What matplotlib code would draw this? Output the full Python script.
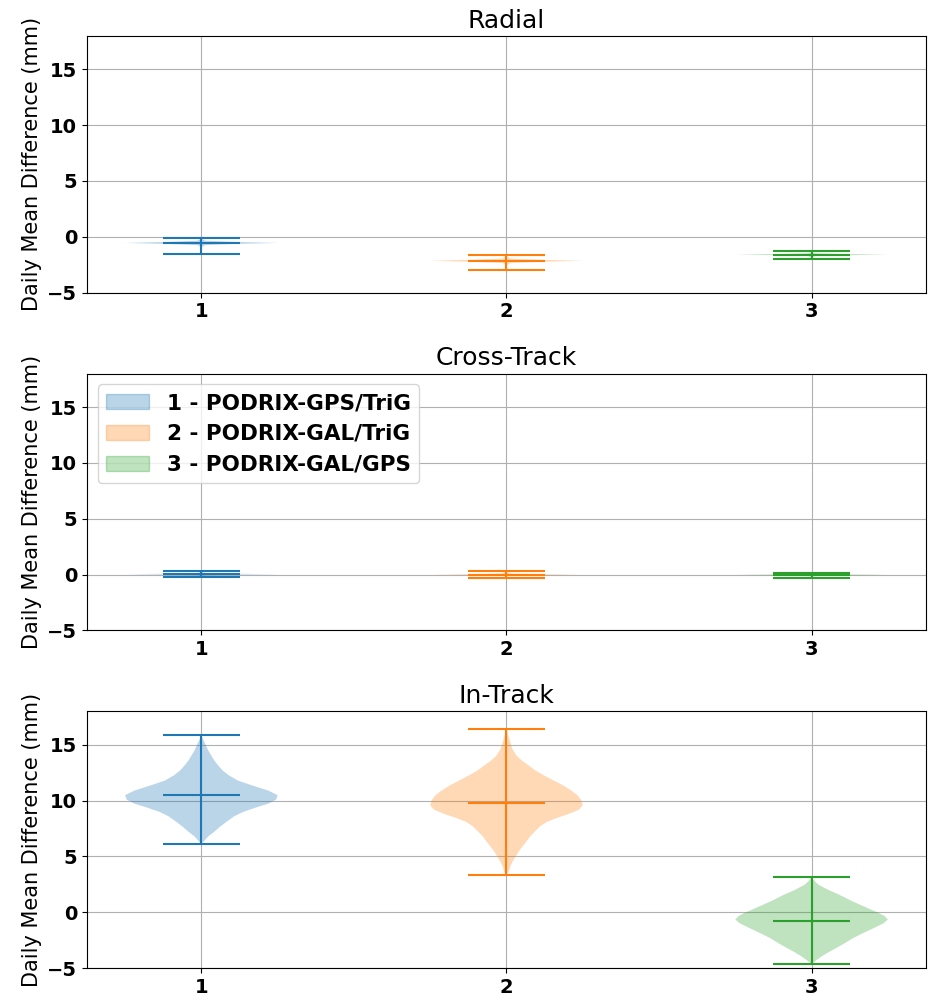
import matplotlib
matplotlib.use("Agg")
import matplotlib.pyplot as plt
import matplotlib.patches as mpatches

# panel titles / legend labels
titles = ["Radial", "Cross-Track", "In-Track"]
labels = ["1 - PODRIX-GPS/TriG", "2 - PODRIX-GAL/TriG", "3 - PODRIX-GAL/GPS"]
colors = ["C0", "C1", "C2"]
positions = [1, 2, 3]

# summary stats (mm): [min, mean, max]
radial_stats = [[-1.55, -0.55, -0.1], [-2.98, -2.15, -1.65], [-1.95, -1.6, -1.3]]
cross_stats = [[-0.2, 0.03, 0.33], [-0.27, 0.0, 0.33], [-0.3, -0.03, 0.15]]
intrack_stats = [[6.15, 10.5, 15.86], [3.3, 9.8, 16.43], [-4.66, -0.74, 3.12]]

# density profiles (relative half-width)
radial_coords = [
    [-1.55, -0.9, -0.75, -0.65, -0.55, -0.45, -0.35, -0.2, -0.1],
    [-2.98, -2.5, -2.35, -2.25, -2.15, -2.05, -1.95, -1.8, -1.65],
    [-1.95, -1.82, -1.72, -1.66, -1.6, -1.54, -1.48, -1.4, -1.3],
]
radial_vals = [
    [0, 0.01, 0.05, 0.4, 1.0, 0.4, 0.05, 0.01, 0],
    [0, 0.01, 0.05, 0.4, 1.0, 0.4, 0.05, 0.01, 0],
    [0, 0.01, 0.05, 0.4, 1.0, 0.4, 0.05, 0.01, 0],
]
cross_coords = [
    [-0.2, -0.12, -0.06, -0.01, 0.03, 0.07, 0.12, 0.2, 0.33],
    [-0.27, -0.15, -0.09, -0.04, 0.0, 0.04, 0.09, 0.2, 0.33],
    [-0.3, -0.18, -0.12, -0.07, -0.03, 0.01, 0.06, 0.1, 0.15],
]
cross_vals = [
    [0, 0.01, 0.06, 0.45, 1.0, 0.45, 0.06, 0.01, 0],
    [0, 0.01, 0.06, 0.45, 1.0, 0.45, 0.06, 0.01, 0],
    [0, 0.01, 0.06, 0.45, 1.0, 0.45, 0.06, 0.01, 0],
]
intrack_coords = [
    [6.15, 6.33, 6.8, 7.22, 7.7, 8.11, 8.6, 9.0, 9.4, 9.74, 10.1, 10.49, 10.9,
     11.38, 11.8, 12.27, 12.7, 13.16, 13.6, 14.05, 14.5, 14.95, 15.4, 15.86],
    [3.3, 3.66, 4.1, 4.55, 5.0, 5.44, 5.9, 6.33, 6.8, 7.22, 7.7, 8.11, 8.5, 8.85,
     9.2, 9.6, 10.05, 10.49, 10.9, 11.38, 11.8, 12.27, 12.7, 13.16, 13.6, 14.05,
     14.6, 15.24, 15.8, 16.43],
    [-4.66, -4.3, -3.92, -3.55, -3.18, -2.75, -2.29, -1.85, -1.4, -1.0, -0.65,
     -0.35, -0.06, 0.3, 0.69, 1.1, 1.58, 2.0, 2.47, 2.8, 3.12],
]
intrack_vals = [
    [0, 0.03, 0.09, 0.17, 0.25, 0.33, 0.43, 0.55, 0.72, 0.88, 0.98, 1.0, 0.88,
     0.66, 0.48, 0.36, 0.28, 0.22, 0.17, 0.13, 0.09, 0.06, 0.03, 0],
    [0, 0.03, 0.05, 0.08, 0.12, 0.16, 0.21, 0.26, 0.31, 0.37, 0.44, 0.53, 0.68,
     0.83, 0.95, 1.0, 0.98, 0.93, 0.85, 0.74, 0.62, 0.49, 0.38, 0.29, 0.2, 0.13,
     0.08, 0.05, 0.025, 0],
    [0, 0.06, 0.14, 0.23, 0.33, 0.44, 0.55, 0.68, 0.82, 0.94, 1.0, 0.96, 0.88,
     0.76, 0.63, 0.5, 0.36, 0.22, 0.09, 0.04, 0],
]

panels = [
    (radial_stats, radial_coords, radial_vals),
    (cross_stats, cross_coords, cross_vals),
    (intrack_stats, intrack_coords, intrack_vals),
]

fig, axes = plt.subplots(3, 1, figsize=(9.3, 9.98), dpi=100)
fig.subplots_adjust(left=0.0935, right=0.9957, top=0.964, bottom=0.030, hspace=0.316)

for ax, title, (stats, coords, vals) in zip(axes, titles, panels):
    for i in range(3):
        vp = dict(coords=coords[i], vals=vals[i], min=stats[i][0],
                  mean=stats[i][1], median=stats[i][1], max=stats[i][2])
        parts = ax.violin([vp], positions=[positions[i]], widths=0.5,
                          showmeans=True, showextrema=True)
        for body in parts["bodies"]:
            body.set_facecolor(colors[i])
            body.set_edgecolor("none")
            body.set_alpha(0.3)
        for key in ("cmins", "cmaxes", "cbars", "cmeans"):
            parts[key].set_color(colors[i])
            parts[key].set_linewidth(1.5)
    ax.set_xlim(0.625, 3.375)
    ax.set_ylim(-5, 18)
    ax.set_xticks(positions)
    ax.set_yticks([-5, 0, 5, 10, 15])
    ax.tick_params(labelsize=14)
    for lbl in ax.get_xticklabels() + ax.get_yticklabels():
        lbl.set_fontweight("bold")
    ax.set_title(title, fontsize=18)
    ax.set_ylabel("Daily Mean Difference (mm)", fontsize=15)
    ax.grid(True)
    ax.set_axisbelow(True)

handles = [mpatches.Patch(facecolor=c, alpha=0.3, edgecolor=c) for c in colors]
axes[1].legend(handles, labels, loc="upper left",
               prop={"weight": "bold", "size": 15.5})

fig.savefig("out.png", dpi=100)
